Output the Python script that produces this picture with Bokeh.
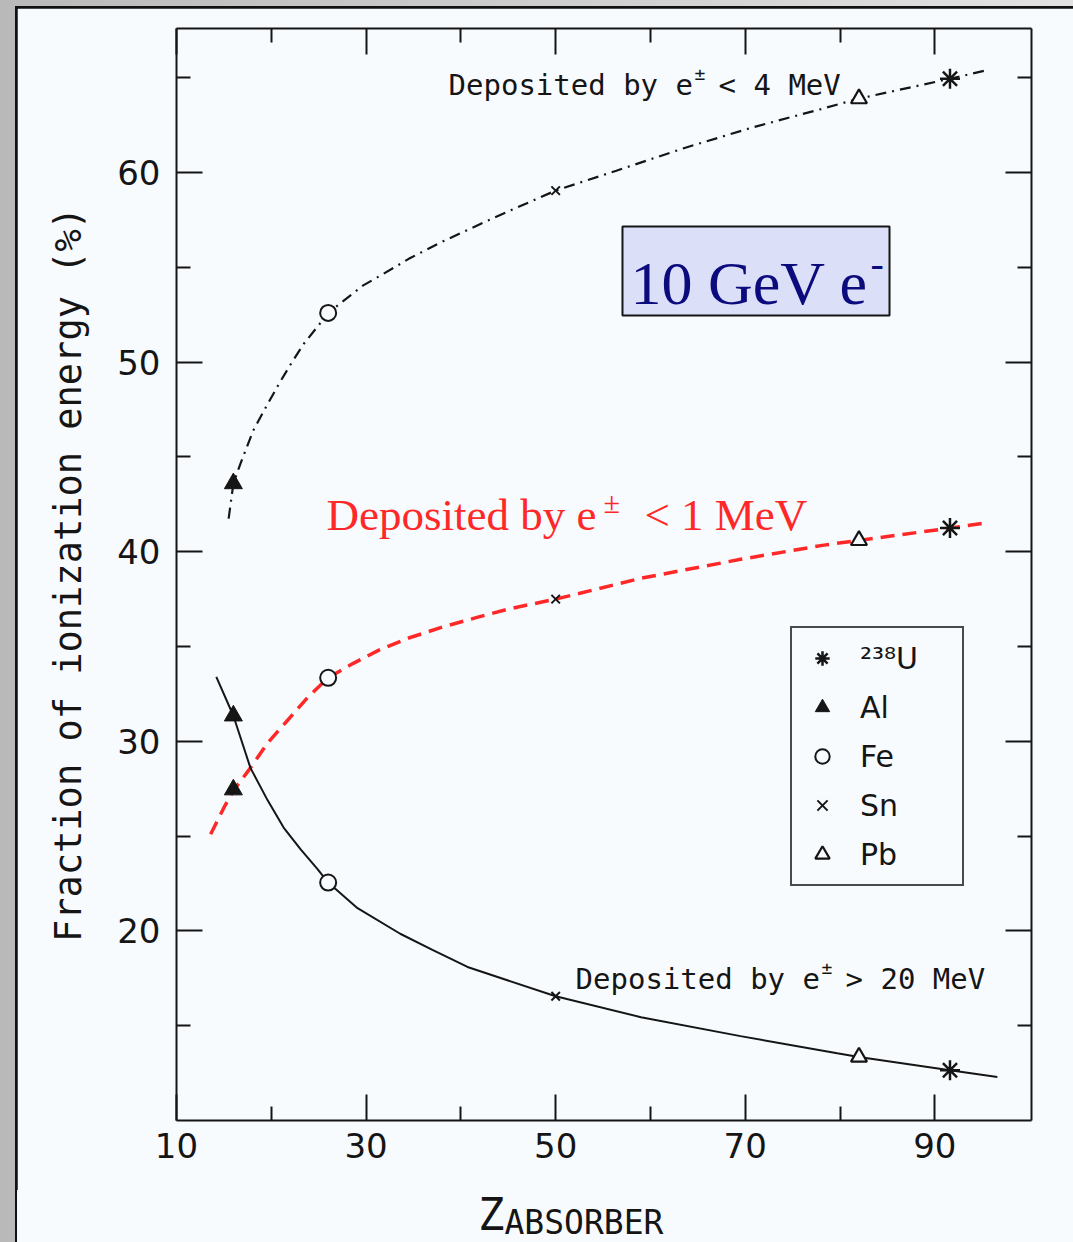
from bokeh.plotting import figure
from bokeh.models import (ColumnDataSource, FixedTicker, LinearAxis, Range1d,
                          Legend, LegendItem, Label, BoxAnnotation, Div)
from bokeh.core.properties import value
from bokeh.layouts import column
from bokeh.embed import file_html
from bokeh.resources import INLINE

# ---- data -------------------------------------------------------------
# atomic number (as placed on the Z axis) for each absorber
z_al, z_fe, z_sn, z_pb, z_u = 16.0, 26.0, 50.0, 82.0, 91.6

# fraction of ionization energy (%) per absorber:
# [deposited by e± < 4 MeV, e± < 1 MeV, e± > 20 MeV]
frac_al = [43.6, 27.45, 31.35]
frac_fe = [52.6, 33.35, 22.55]
frac_sn = [59.05, 37.5, 16.55]
frac_pb = [63.9, 40.6, 13.35]
frac_u = [64.95, 41.25, 12.65]

# guide curves through the points
curve4_z = [15.5, 16.0, 16.75, 18.1, 19.4, 20.8, 22.0, 23.4, 25.0, 26.0,
            29.7, 31.8, 34.5, 37.6, 43.4, 50.0, 56.4, 63.6, 70.9, 78.0,
            82.0, 91.6, 95.5]
curve4_f = [41.75, 43.6, 44.65, 46.4, 47.6, 48.85, 49.85, 50.95, 51.95, 52.6,
            54.05, 54.65, 55.45, 56.25, 57.6, 59.05, 60.1, 61.3, 62.4, 63.35,
            63.9, 64.95, 65.4]

curve1_z = [13.6, 15.0, 16.0, 17.8, 19.6, 21.7, 23.8, 26.0, 28.6, 31.3,
            34.5, 38.2, 41.8, 45.2, 50.0, 59.0, 69.5, 78.3, 82.0, 91.6, 95.1]
curve1_f = [25.1, 26.5, 27.4, 28.6, 29.9, 31.1, 32.3, 33.35, 34.1, 34.8,
            35.45, 36.05, 36.55, 37.0, 37.5, 38.6, 39.6, 40.35, 40.6, 41.25,
            41.5]

curve20_z = [14.2, 16.0, 17.8, 19.6, 21.3, 23.1, 24.9, 26.0, 29.1, 33.6,
             37.0, 40.7, 50.0, 59.0, 69.5, 79.7, 82.0, 91.6, 96.6]
curve20_f = [33.4, 31.35, 28.6, 26.9, 25.45, 24.3, 23.25, 22.55, 21.2, 19.85,
             19.0, 18.1, 16.55, 15.45, 14.45, 13.55, 13.35, 12.65, 12.3]

x_ticks = [10, 30, 50, 70, 90]
x_minor = [20, 40, 60, 80]
y_ticks = [20, 30, 40, 50, 60]
y_minor = [15, 25, 35, 45, 55, 65]

# ---- styling ------------------------------------------------------------
BG = "#f8fbfd"
INK = "#151515"
RED = "#ff2828"
MONO = "DejaVu Sans Mono"

p = figure(width=1056, height=1182,
           x_range=Range1d(10, 100.2), y_range=Range1d(10, 67.6),
           output_backend="svg", toolbar_location=None,
           min_border_left=159, min_border_right=42,
           min_border_top=20, min_border_bottom=70,
           background_fill_color=BG, border_fill_color=BG,
           outline_line_color=None)
p.grid.visible = False

bottom_ax = p.below[0]
left_ax = p.left[0]
top_ax = LinearAxis()
right_ax = LinearAxis()
p.add_layout(top_ax, "above")
p.add_layout(right_ax, "right")

for ax in [bottom_ax, top_ax]:
    ax.ticker = FixedTicker(ticks=x_ticks, minor_ticks=x_minor)
for ax in [left_ax, right_ax]:
    ax.ticker = FixedTicker(ticks=y_ticks, minor_ticks=y_minor)

for ax in [bottom_ax, left_ax, top_ax, right_ax]:
    ax.axis_line_width = 2
    ax.axis_line_color = INK
    ax.major_tick_in = 26
    ax.major_tick_out = 0
    ax.minor_tick_in = 14
    ax.minor_tick_out = 0
    ax.major_tick_line_width = 2
    ax.minor_tick_line_width = 2
    ax.major_tick_line_color = INK
    ax.minor_tick_line_color = INK
    ax.major_label_text_font = "DejaVu Sans"
    ax.major_label_text_font_size = "34px"
    ax.major_label_text_color = INK

# mirrored tick marks on the top and right edges carry no numbers
top_ax.major_label_overrides = {t: "" for t in x_ticks}
right_ax.major_label_overrides = {t: "" for t in y_ticks}
for ax in [top_ax, right_ax]:
    ax.major_label_text_font_size = "8px"
    ax.major_label_standoff = 0

bottom_ax.major_label_standoff = 12
left_ax.major_label_standoff = 16
left_ax.axis_label = "Fraction of ionization energy (%)"
left_ax.axis_label_text_font = MONO
left_ax.axis_label_text_font_size = "37px"
left_ax.axis_label_text_font_style = "normal"
left_ax.axis_label_text_color = INK
left_ax.axis_label_standoff = 24

# ---- curves -------------------------------------------------------------
p.line(curve4_z, curve4_f, line_color=INK, line_width=2.2, line_dash="11 6 2 6")
p.line(curve1_z, curve1_f, line_color=RED, line_width=3.5, line_dash="14 8")
p.line(curve20_z, curve20_f, line_color=INK, line_width=2)

# ---- points, one renderer per absorber ---------------------------------
def src(z, fr):
    return ColumnDataSource(dict(z=[z] * len(fr), f=fr))

r_u = p.scatter("z", "f", source=src(z_u, frac_u), marker="asterisk",
                size=20, line_color=INK, line_width=2.5)
r_al = p.scatter("z", "f", source=src(z_al, frac_al), marker="triangle",
                 size=18, fill_color=INK, line_color=INK)
r_fe = p.scatter("z", "f", source=src(z_fe, frac_fe), marker="circle",
                 size=16, fill_color=BG, line_color=INK, line_width=2)
r_sn = p.scatter("z", "f", source=src(z_sn, frac_sn), marker="x",
                 size=12, line_color=INK, line_width=2)
r_pb = p.scatter("z", "f", source=src(z_pb, frac_pb), marker="triangle",
                 size=16, fill_color=BG, line_color=INK, line_width=2.2)

legend = Legend(items=[
    LegendItem(label="²³⁸U", renderers=[r_u]),
    LegendItem(label="Al", renderers=[r_al]),
    LegendItem(label="Fe", renderers=[r_fe]),
    LegendItem(label="Sn", renderers=[r_sn]),
    LegendItem(label="Pb", renderers=[r_pb]),
], location=(614, 234))
legend.label_text_font = "DejaVu Sans"
legend.label_text_font_size = "30px"
legend.label_text_color = INK
legend.glyph_width = 36
legend.glyph_height = 36
legend.label_height = 36
legend.label_width = 90
legend.spacing = 13
legend.padding = 12
legend.margin = 0
legend.label_standoff = 20
legend.border_line_color = "#4a4a4a"
legend.border_line_alpha = 1
legend.border_line_width = 2
legend.background_fill_color = BG
legend.background_fill_alpha = 1
p.add_layout(legend)

# ---- curve captions -----------------------------------------------------
def caption(x, y, parts, font, color):
    for txt, dx, dy, fs in parts:
        p.text(x=[x], y=[y], text=[txt], x_offset=dx, y_offset=dy,
               text_font=value(font), text_font_size=fs,
               text_color=color, text_align="left",
               text_baseline="alphabetic")

caption(38.7, 64.6, [("Deposited by e", 0, 0, "29px"),
                     ("±", 246, -12, "18px"),
                     ("< 4 MeV", 270, 0, "29px")], MONO, INK)
caption(52.1, 17.45, [("Deposited by e", 0, 0, "29px"),
                      ("±", 246, -12, "18px"),
                      ("> 20 MeV", 270, 0, "29px")], MONO, INK)
caption(25.82, 41.92, [("Deposited by e", 0, 0, "45px"),
                       ("±", 277, -13, "30px"),
                       ("< 1 MeV", 318, 0, "45px")],
        "Liberation Serif", RED)

# ---- beam box -----------------------------------------------------------
p.add_layout(BoxAnnotation(left=57.05, right=85.22, bottom=52.46, top=57.16,
                           fill_color="#dcdff8", fill_alpha=1,
                           line_color=INK, line_alpha=1, line_width=2))
p.add_layout(Label(x=57.9, y=54.2, text="10 GeV e",
                   text_font="Liberation Serif", text_font_size="62px",
                   text_color="#0b0b7d", text_baseline="alphabetic"))
p.add_layout(Label(x=57.9, y=54.2, x_offset=240, y_offset=19, text="-",
                   text_font="Liberation Serif", text_font_size="40px",
                   text_color="#0b0b7d", text_baseline="alphabetic"))

# ---- x axis title: Z with subscript -------------------------------------
xtitle = Div(
    text=('<div style="margin-left:461px;padding-top:3px;line-height:1;'
          'white-space:nowrap;font-family:\'DejaVu Sans Mono\';color:#151515">'
          '<span style="font-size:44px">Z</span>'
          '<span style="font-size:33px;position:relative;top:4px">ABSORBER</span>'
          '</div>'),
    width=1056, height=52, margin=0, styles={"background-color": BG})

inner = column(p, xtitle, spacing=0, margin=0,
               styles={"background-color": "#111111",
                       "padding": "2px 0px 0px 2px"})
page = column(inner, margin=0,
              styles={"background": "linear-gradient(90deg, #b9b9b9, #e2e2e2)",
                      "padding": "6px 0px 0px 15px"})

open("out.html", "w").write(file_html(page, INLINE))
